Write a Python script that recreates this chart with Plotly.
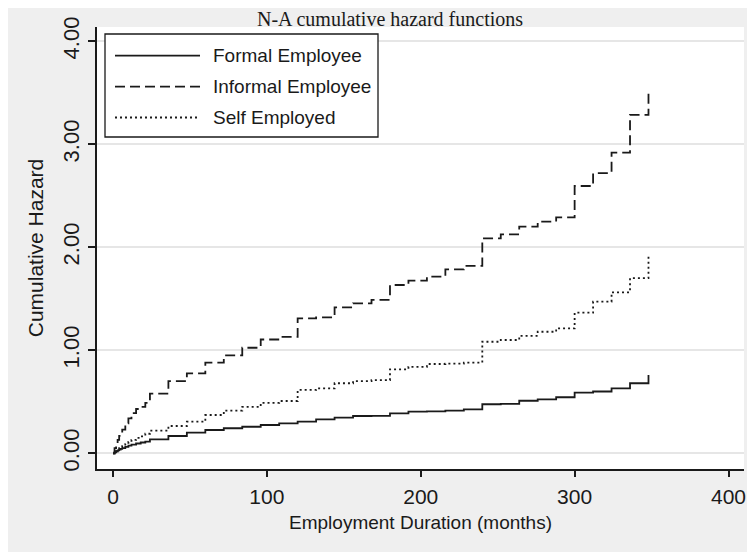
import plotly.graph_objects as go

# ---- data ----
months = [0, 1, 2, 3, 4, 5, 6, 8, 10, 12, 15, 18, 21,
          24, 36, 48, 60, 72, 84, 96, 108, 120, 132, 144, 156, 168, 180,
          192, 204, 216, 228, 240, 252, 264, 276, 288, 300, 312, 324, 336, 348]

formal = [0, 0.01, 0.02, 0.028, 0.035, 0.043, 0.05, 0.062, 0.075, 0.085, 0.095, 0.105, 0.113,
          0.135, 0.168, 0.200, 0.226, 0.243, 0.258, 0.275, 0.290, 0.307, 0.330, 0.346, 0.362, 0.364, 0.388,
          0.404, 0.408, 0.415, 0.427, 0.476, 0.480, 0.510, 0.524, 0.544, 0.589, 0.600, 0.631, 0.680, 0.760]

informal = [0, 0.05, 0.09, 0.13, 0.17, 0.20, 0.23, 0.29, 0.34, 0.39, 0.43, 0.45, 0.49,
            0.58, 0.70, 0.776, 0.88, 0.95, 1.025, 1.105, 1.13, 1.31, 1.32, 1.417, 1.456, 1.49, 1.634,
            1.676, 1.715, 1.786, 1.82, 2.087, 2.126, 2.20, 2.25, 2.29, 2.595, 2.72, 2.92, 3.286, 3.534]

self_emp = [0, 0.01, 0.02, 0.035, 0.05, 0.06, 0.07, 0.09, 0.11, 0.13, 0.15, 0.165, 0.19,
            0.22, 0.265, 0.307, 0.372, 0.414, 0.45, 0.49, 0.508, 0.615, 0.63, 0.68, 0.70, 0.71, 0.815,
            0.84, 0.867, 0.87, 0.88, 1.083, 1.10, 1.14, 1.18, 1.213, 1.365, 1.472, 1.563, 1.70, 1.925]

series_names = ["Formal Employee", "Informal Employee", "Self Employed"]
series_dash = ["solid", "10px,5px", "2px,3px"]

x_ticks = [0, 100, 200, 300, 400]
y_ticks = [0, 1, 2, 3, 4]

title_text = "N-A cumulative hazard functions"
x_title = "Employment Duration (months)"
y_title = "Cumulative Hazard"

# ---- layout geometry (page pixels; the figure div sits 8px in from the page corner) ----
OFF = 8
W, H = 755 - OFF, 552 - OFF
PL, PR, PT, PB = 97, 744, 27, 469          # plot area on the page
ML, MT = PL - OFF, PT - OFF
MR, MB = (OFF + W) - PR, (OFF + H) - PB
PW, PH = PR - PL, PB - PT

def px(page_x):
    return (page_x - PL) / PW

def py(page_y):
    return (PB - page_y) / PH

FONT = "Liberation Sans, Arial, sans-serif"
INK = "#1a1a1a"
GRAY_BG = "#efefef"
LW = 1.8

fig = go.Figure()
for name, vals, dash in zip(series_names, [formal, informal, self_emp], series_dash):
    fig.add_trace(go.Scatter(
        x=months, y=vals, name=name, mode="lines",
        line=dict(shape="hv", color=INK, width=LW, dash=dash),
        showlegend=False, hoverinfo="skip"))

shapes = []
annotations = []

# manual legend box
shapes.append(dict(type="rect", xref="paper", yref="paper",
                   x0=px(105), x1=px(378), y0=py(137), y1=py(34),
                   fillcolor="white", line=dict(color=INK, width=1.3), layer="above"))
legend_rows = [55.7, 86.7, 117.5]
for name, dash, yrow in zip(series_names, series_dash, legend_rows):
    shapes.append(dict(type="line", xref="paper", yref="paper",
                       x0=px(115), x1=px(200), y0=py(yrow), y1=py(yrow),
                       line=dict(color=INK, width=LW, dash=dash), layer="above"))
    annotations.append(dict(text=name, xref="paper", yref="paper",
                            x=px(211), y=py(yrow), xanchor="left", yanchor="middle",
                            showarrow=False, font=dict(family=FONT, size=19, color=INK)))

# title at the very top of the graph region
annotations.append(dict(text=title_text, xref="paper", yref="paper",
                        x=px(390), y=py(OFF - 2), xanchor="center", yanchor="top",
                        showarrow=False,
                        font=dict(family="Liberation Serif, Times New Roman, serif", size=20, color=INK)))

fig.update_layout(
    template="none",
    width=W, height=H,
    margin=dict(l=ML, r=MR, t=MT, b=MB, pad=0, autoexpand=False),
    paper_bgcolor=GRAY_BG, plot_bgcolor="white",
    showlegend=False,
    shapes=shapes, annotations=annotations,
    font=dict(family=FONT, color=INK),
)

XPU = (728.5 - 113) / 400.0      # page pixels per month
x0 = (PL - 113) / XPU
x1 = (PR - 113) / XPU
fig.update_xaxes(range=[x0, x1], tickvals=x_ticks, ticktext=[str(v) for v in x_ticks],
                 automargin=False,
                 showgrid=False, zeroline=False,
                 showline=True, linecolor=INK, linewidth=1.5,
                 ticks="outside", ticklen=6, tickwidth=1.5, tickcolor=INK,
                 ticklabelstandoff=2,
                 tickfont=dict(family=FONT, size=21, color=INK),
                 title=dict(text=x_title, font=dict(family=FONT, size=19, color=INK), standoff=9))

YPU = 103.0
y0 = -(PB - 453.3) / YPU
y1 = (453.3 - PT) / YPU
fig.update_yaxes(range=[y0, y1], tickvals=y_ticks, tickformat=".2f",
                 automargin=False,
                 showgrid=True, gridcolor="#e6e6e6", gridwidth=1.5, zeroline=False,
                 showline=True, linecolor=INK, linewidth=1.5,
                 ticks="outside", ticklen=7, tickwidth=1.5, tickcolor=INK,
                 tickangle=-90, ticklabelstandoff=0,
                 tickfont=dict(family=FONT, size=22, color=INK),
                 title=dict(text=y_title, font=dict(family=FONT, size=21, color=INK), standoff=10))

fig.write_html("out.html")
